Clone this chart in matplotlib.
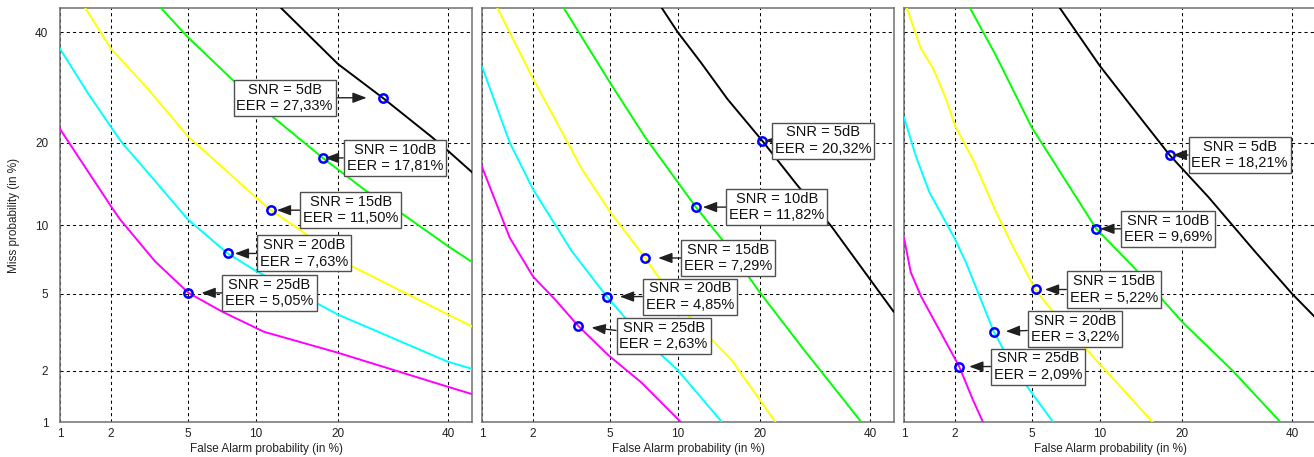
import numpy as np
import matplotlib
matplotlib.use("Agg")
import matplotlib.pyplot as plt
from statistics import NormalDist

# DET curves, values in percent (false alarm, miss)
snr_names = ['5dB', '10dB', '15dB', '20dB', '25dB']
curve_colors = ['#000000', '#00ff00', '#ffff00', '#00ffff', '#ff00ff']
ticks = [1, 2, 5, 10, 20, 40]

# panel 1
p1_fa = [
    [12.6, 20, 27.33, 36.6, 40, 45],
    [3.7, 5, 8.18, 11.6, 17.81, 24.5, 31, 40, 45],
    [1.42, 2, 3.17, 5, 10, 11.5, 15, 20, 40, 45],
    [1, 1.47, 2, 2.3, 3.45, 5, 7.63, 10, 12.8, 20, 40, 45],
    [1, 2, 2.24, 3.45, 5.05, 7.2, 10.8, 20, 40, 45],
]
p1_miss = [
    [45, 33.6, 27.33, 20.9, 18.8, 15.9],
    [45, 39, 30.2, 24.2, 17.81, 13.6, 11.1, 8.2, 7.0],
    [45, 36.6, 28.9, 21, 12.9, 11.5, 9.5, 7.2, 3.96, 3.45],
    [36.6, 28.2, 22.4, 20, 14.8, 10.6, 7.63, 6.4, 5.5, 3.96, 2.24, 2.05],
    [22.1, 11.9, 10.6, 7.04, 5.05, 4.1, 3.24, 2.51, 1.62, 1.47],
]
p1_eer = [27.33, 17.81, 11.50, 7.63, 5.05]
p1_mark = [27.33, 17.81, 11.50, 7.63, 5.05]

# panel 2
p2_fa = [
    [8.6, 10, 12.4, 15.5, 20.32, 25.9, 32.3, 44.9],
    [2.94, 5, 7.26, 11.82, 14.8, 20, 26.8, 38.2],
    [1.24, 2, 2.64, 3.65, 5, 7.29, 10, 16, 22.4],
    [1, 1.47, 2, 3.24, 4.85, 7.03, 10, 14.8],
    [1, 1.47, 2, 2.64, 3.47, 4.9, 7.03, 10.3],
]
p2_miss = [
    [45, 40, 33.8, 27.1, 20.32, 14.4, 9.9, 4.1],
    [45, 30.2, 20.9, 11.82, 8.77, 5.07, 2.7, 1.0],
    [45, 30.8, 23.7, 16.3, 11.4, 7.29, 4.44, 2.3, 1.0],
    [33.1, 20, 13.8, 7.8, 4.85, 3.05, 2.02, 1.0],
    [16.6, 8.9, 6.02, 4.7, 3.5, 2.45, 1.71, 1.0],
]
p2_eer = [20.32, 11.82, 7.29, 4.85, 2.63]
p2_mark = [20.32, 11.82, 7.29, 4.85, 3.47]

# panel 3
p3_fa = [
    [6.76, 10, 14.2, 18.21, 24.2, 32.7, 40, 45],
    [2.42, 3.33, 5, 6.97, 9.69, 13.5, 20, 28.4, 37.6],
    [1.04, 1.27, 1.5, 1.78, 2, 2.51, 3.33, 4.05, 5.22, 6.02, 9.65, 15.9],
    [1, 1.18, 1.42, 2, 2.3, 3.24, 4.05, 5, 6.3],
    [1, 1.1, 1.27, 1.71, 2.11, 2.51, 2.84],
]
p3_miss = [
    [45, 33.3, 24.2, 18.21, 12.9, 7.72, 5, 3.8],
    [45, 35.2, 22.4, 15.4, 9.69, 6.69, 3.65, 2.0, 1.0],
    [45, 36.6, 32.7, 27.1, 22.6, 17.6, 11.3, 8.18, 5.22, 4.34, 2.3, 1.0],
    [24, 18.1, 13.5, 8.77, 6.97, 3.24, 2.1, 1.5, 1.0],
    [8.9, 6.3, 4.86, 3.05, 2.11, 1.36, 1.0],
]
p3_eer = [18.21, 9.69, 5.22, 3.22, 2.09]
p3_mark = [18.21, 9.69, 5.24, 3.24, 2.11]

# label box offsets (pixels) and arrow gap to the marker (pixels)
p1_box = [(-98, 0), (72, 0), (80, 0), (76, 0), (81, 0)]
p1_gap = [16, 2, 6, 7, 13]
p2_box = [(61, 0), (81, 0), (83, 0), (83, 0), (86, -10)]
p2_gap = [3, 7, 13, 13, 14]
p3_box = [(70, 0), (72, 0), (78, 0), (81, 3), (79, 0)]
p3_gap = [3, 4, 9, 12, 10]

_nd = NormalDist()
_ppf = np.vectorize(_nd.inv_cdf, otypes=[float])
_cdf = np.vectorize(_nd.cdf, otypes=[float])


def probit(v):
    v = np.clip(np.asarray(v, dtype=float) / 100.0, 1e-9, 1 - 1e-9)
    return _ppf(v)


def unprobit(v):
    return _cdf(np.asarray(v, dtype=float)) * 100.0


plt.rcParams['font.family'] = ['Liberation Sans', 'DejaVu Sans']

W, H = 1314, 457
fig = plt.figure(figsize=(W / 100, H / 100), dpi=100)
fig.patch.set_facecolor('white')


def det_panel(left, fa, miss, eer, mark, boxes, gaps, ylabels):
    ax = fig.add_axes([left / W, (H - 422) / H, 412 / W, 414 / H])
    ax.set_xscale('function', functions=(probit, unprobit))
    ax.set_yscale('function', functions=(probit, unprobit))
    ax.set_xlim(1, 45)
    ax.set_ylim(1, 45)
    ax.set_xticks(ticks)
    ax.set_xticklabels([str(t) for t in ticks])
    ax.set_yticks(ticks)
    if ylabels:
        ax.set_yticklabels([str(t) for t in ticks])
    else:
        ax.set_yticklabels([])
    ax.minorticks_off()
    ax.tick_params(length=0, labelsize=8.5, colors='#222222')
    ax.tick_params(axis='x', pad=4)
    ax.tick_params(axis='y', pad=8.5)
    ax.grid(True, color='black', linestyle=(0, (3, 3)), linewidth=0.75)
    ax.set_axisbelow(True)
    for s in ax.spines.values():
        s.set_color('#707070')
        s.set_linewidth(1.1)

    for i in range(5):
        ax.plot(fa[i], miss[i], color=curve_colors[i], lw=1.4, zorder=3)
    for i in range(5):
        ax.plot([mark[i]], [mark[i]], 'o', ms=6, mfc='none', mec='#0000ff',
                mew=1.8, zorder=4)
        txt = 'SNR = %s\nEER = %s%%' % (snr_names[i], ('%.2f' % eer[i]).replace('.', ','))
        ax.annotate(txt, xy=(mark[i], mark[i]), xycoords='data',
                    xytext=boxes[i], textcoords='offset pixels',
                    ha='center', va='center', fontsize=10.5, linespacing=1.2,
                    color='#111111', zorder=5,
                    bbox=dict(boxstyle='square,pad=0.2', fc='white',
                              ec='#505050', lw=1.0),
                    arrowprops=dict(arrowstyle='-|>,head_length=0.8,head_width=0.3',
                                    color='#202020', lw=1.0, shrinkA=0,
                                    shrinkB=gaps[i] * 0.72))

    ax.set_xlabel('False Alarm probability (in %)', fontsize=8.5, color='#222222')
    ax.xaxis.set_label_coords(0.5, -0.065)
    ax.xaxis.label.set_va('center')
    if ylabels:
        ax.set_ylabel('Miss probability (in %)', fontsize=8.5, color='#222222')
        ax.yaxis.set_label_coords(-0.112, 0.5)
        ax.yaxis.label.set_va('center')
    return ax


det_panel(60, p1_fa, p1_miss, p1_eer, p1_mark, p1_box, p1_gap, True)
det_panel(482, p2_fa, p2_miss, p2_eer, p2_mark, p2_box, p2_gap, False)
det_panel(904, p3_fa, p3_miss, p3_eer, p3_mark, p3_box, p3_gap, False)

fig.savefig('out.png', dpi=100)
